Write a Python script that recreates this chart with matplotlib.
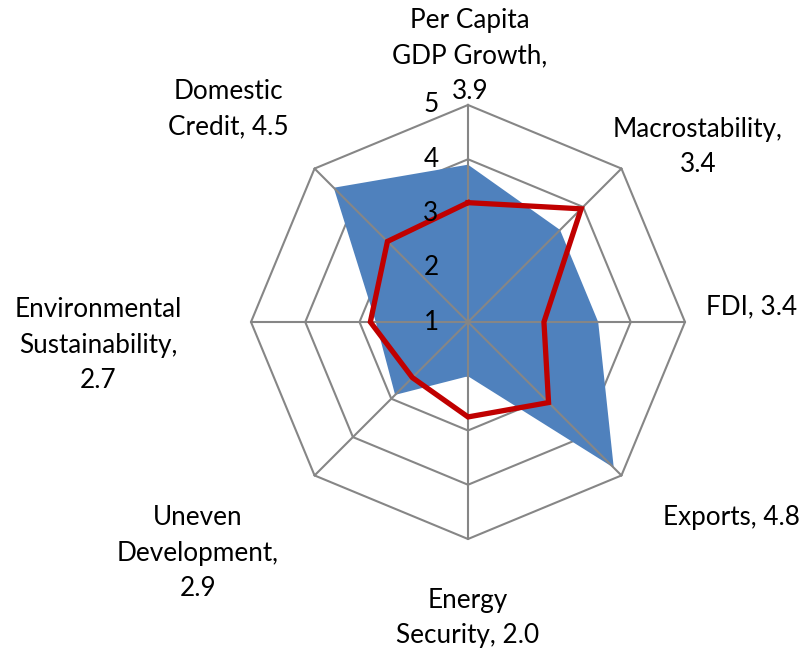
import numpy as np
import matplotlib
matplotlib.use("Agg")
import matplotlib.pyplot as plt

categories = ["Per Capita\nGDP Growth,\n3.9", "Macrostability,\n3.4", "FDI, 3.4",
              "Exports, 4.8", "Energy\nSecurity, 2.0", "Uneven\nDevelopment,\n2.9",
              "Environmental\nSustainability,\n2.7", "Domestic\nCredit, 4.5"]
blue_values = [3.9, 3.4, 3.4, 4.8, 2.0, 2.9, 2.7, 4.5]
red_values = [3.2, 3.95, 2.4, 3.1, 2.75, 2.45, 2.8, 3.1]
ring_levels = [2, 3, 4, 5]
tick_labels = ["1", "2", "3", "4", "5"]

FONT = "Lato"
FS = 18.8
GRID = "#868686"
LINE_H = 35.5  # px between text lines

W, H = 806, 655
fig = plt.figure(figsize=(W / 100, H / 100), dpi=100)
cx, cy, R = 468, 322, 217
ax = fig.add_axes([(cx - R) / W, (H - cy - R) / H, 2 * R / W, 2 * R / H], projection="polar")
ax.set_theta_offset(np.pi / 2)
ax.set_theta_direction(-1)
ax.set_ylim(1, 5)
ax.grid(False)
ax.spines["polar"].set_visible(False)
ax.set_xticks([])
ax.set_yticks([])
ax.patch.set_alpha(0)

n = len(categories)
theta = np.arange(n) * 2 * np.pi / n
tc = np.append(theta, theta[0])

# rings (behind fill)
for lv in ring_levels:
    ax.plot(tc, [lv] * (n + 1), color=GRID, lw=1.5, zorder=1, clip_on=False)

# blue filled series
bv = np.append(blue_values, blue_values[0])
ax.fill(tc, bv, color="#4F81BD", zorder=2, lw=0)

# spokes (over fill)
for t in theta:
    ax.plot([t, t], [1, 5], color=GRID, lw=1.5, zorder=3, clip_on=False)

# red line
rv = np.append(red_values, red_values[0])
ax.plot(tc, rv, color="#C00000", lw=3.8, zorder=4, solid_joinstyle="miter")

# radial tick labels
for lv, lab in zip(range(1, 6), tick_labels):
    ax.annotate(lab, xy=(0, lv), xytext=(-37, 0), textcoords="offset pixels",
                ha="center", va="center", fontsize=FS, family=FONT, zorder=5)

# category labels (pixel positions of block centres), one text per line
label_pos = [(470, 56), (698, 147), (752, 307), (731, 517), (468, 618),
             (198, 553), (98, 345), (228, 109)]
for txt, (x, y) in zip(categories, label_pos):
    lines = txt.split("\n")
    y0 = y - (len(lines) - 1) * LINE_H / 2
    for i, ln in enumerate(lines):
        fig.text(x / W, 1 - (y0 + i * LINE_H) / H, ln, ha="center", va="center",
                 fontsize=FS, family=FONT)

fig.savefig("out.png", dpi=100)
